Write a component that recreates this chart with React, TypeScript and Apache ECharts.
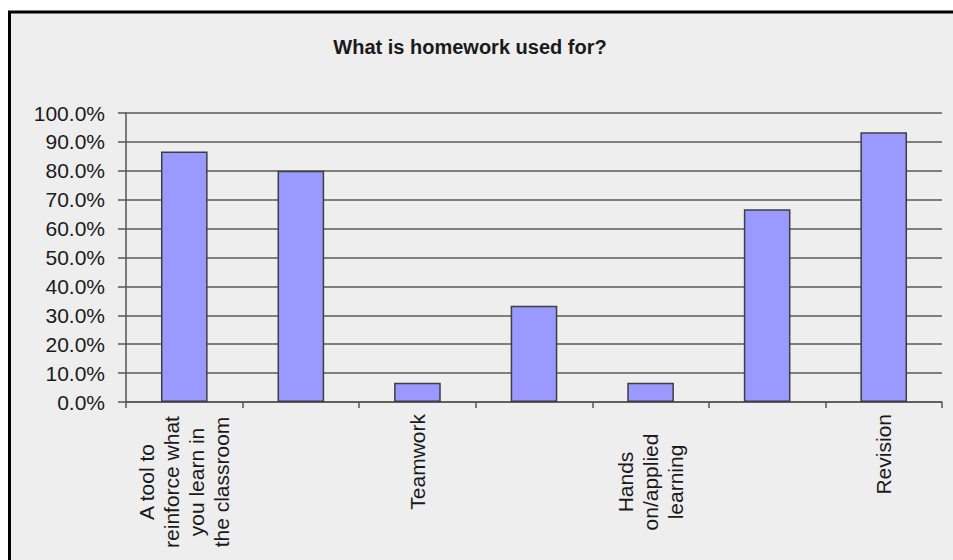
import React, { useEffect, useRef } from "react";
import * as echarts from "echarts";

const titleText = "What is homework used for?";
const categories: string[][] = [
  ["A tool to", "reinforce what", "you learn in", "the classroom"],
  [],
  ["Teamwork"],
  [],
  ["Hands", "on/applied", "learning"],
  [],
  ["Revision"],
];
const values = [0.867, 0.8, 0.067, 0.333, 0.067, 0.667, 0.933];
const yMin = 0;
const yMax = 1;
const yStep = 0.1;

const FONT = "'Liberation Sans', Arial, sans-serif";

export default function App() {
  const ref = useRef<HTMLDivElement>(null);
  useEffect(() => {
    if (!ref.current) return;
    const chart = echarts.init(ref.current, undefined, { renderer: "svg" });
    const catNames = categories.map((c) => c.join("\n"));
    chart.setOption({
      animation: false,
      backgroundColor: "#ffffff",
      graphic: [
        {
          type: "rect",
          z: -10,
          silent: true,
          shape: { x: 9.5, y: 12, width: 1100, height: 700 },
          style: { fill: "#eeeeee", stroke: "#000000", lineWidth: 3 },
        },
        {
          type: "text",
          x: 470,
          y: 47,
          style: {
            text: titleText,
            fontFamily: FONT,
            fontWeight: "bold",
            fontSize: 20,
            fill: "#1a1a1a",
            textAlign: "center",
            textVerticalAlign: "middle",
          },
        },
      ],
      grid: { left: 126, right: 11, top: 113, bottom: 158, containLabel: false },
      xAxis: {
        type: "category",
        data: catNames,
        axisLine: { lineStyle: { color: "#555555", width: 1.5 } },
        axisTick: { show: true, length: 6, lineStyle: { color: "#555555", width: 1.5 } },
        axisLabel: {
          interval: 0,
          rotate: 90,
          margin: 12,
          fontFamily: FONT,
          fontSize: 21,
          color: "#1a1a1a",
          lineHeight: 25,
          formatter: (v: string) => {
            if (!v) return "";
            const lines = v.split("\n");
            if (lines.length === 1) return v;
            return lines.map((l) => "{c|" + l + "}").join("\n");
          },
          rich: {
            c: {
              width: 136,
              align: "center",
              fontFamily: FONT,
              fontSize: 21,
              color: "#1a1a1a",
              lineHeight: 25,
            },
          },
        },
        splitLine: { show: false },
      },
      yAxis: {
        type: "value",
        min: yMin,
        max: yMax,
        interval: yStep,
        axisLine: { show: true, lineStyle: { color: "#555555", width: 1.5 } },
        axisTick: { show: true, length: 8, lineStyle: { color: "#555555", width: 1.5 } },
        axisLabel: {
          margin: 21,
          fontFamily: FONT,
          fontSize: 21,
          color: "#1a1a1a",
          formatter: (v: number) => (v * 100).toFixed(1) + "%",
        },
        splitLine: { show: true, lineStyle: { color: "#5a5a5a", width: 1.5 } },
      },
      series: [
        {
          type: "bar",
          data: values,
          barWidth: "40%",
          itemStyle: { color: "#9999ff", borderColor: "#3f3f3f", borderWidth: 1.5 },
        },
      ],
    });
    return () => chart.dispose();
  }, []);
  return (
    <div
      ref={ref}
      style={{ position: "absolute", left: 0, top: 0, width: 953, height: 560 }}
    />
  );
}
